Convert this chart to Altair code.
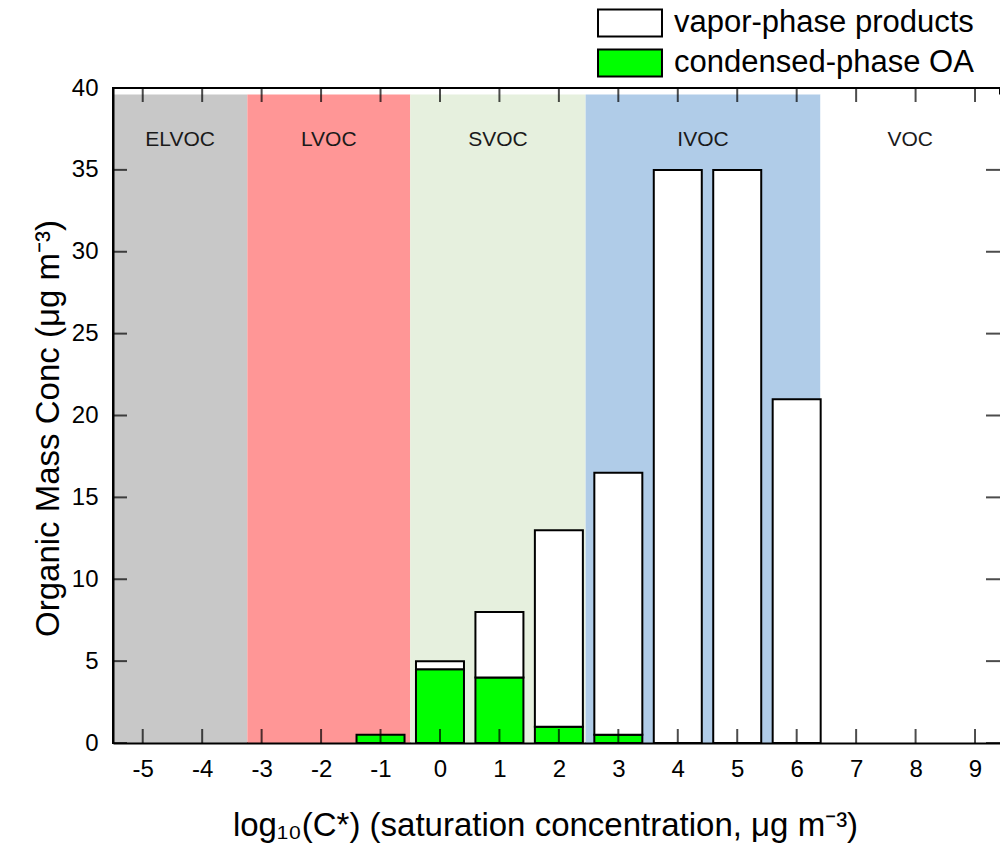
import altair as alt
import pandas as pd

# ---------------- data ----------------
bins = [-1, 0, 1, 2, 3, 4, 5, 6]
condensed = [0.5, 4.5, 4.0, 1.0, 0.5, 0.0, 0.0, 0.0]
vapor = [0.0, 0.5, 4.0, 12.0, 16.0, 35.0, 35.0, 21.0]

series_names = ["vapor-phase products", "condensed-phase OA"]
series_colors = ["#ffffff", "#00ff00"]

band_names = ["ELVOC", "LVOC", "SVOC", "IVOC", "VOC"]
band_start = [-5.5, -3.24, -0.5, 2.45, 6.4]
band_end = [-3.24, -0.5, 2.45, 6.4, 9.42]
band_colors = ["#c8c8c8", "#ff9696", "#e6f0de", "#b0cce8", "#ffffff"]
band_top = 39.6
label_y = 36.8

x_ticks = list(range(-5, 10))
y_ticks = list(range(0, 41, 5))
X_MIN, X_MAX = -5.5, 9.42
Y_MIN, Y_MAX = 0, 40

FONT = "Liberation Sans"

# ---------------- tables ----------------
rows = []
for b, c, v in zip(bins, condensed, vapor):
    if c > 0:
        rows.append({"bin": b, "y0": 0.0, "y1": c, "series": series_names[1]})
    if v > 0:
        rows.append({"bin": b, "y0": c, "y1": c + v, "series": series_names[0]})
bars_df = pd.DataFrame(rows)

bands_df = pd.DataFrame({
    "name": band_names, "start": band_start, "end": band_end,
    "color": band_colors,
})
bands_df["mid"] = (bands_df["start"] + bands_df["end"]) / 2
bands_df["top"] = band_top
bands_df["ly"] = label_y
bands_df["zero"] = 0.0

xt_df = pd.DataFrame({"x": x_ticks})
yt_df = pd.DataFrame({"y": y_ticks})

x_scale = alt.Scale(domain=[X_MIN, X_MAX], nice=False, zero=False, padding=0)
y_scale = alt.Scale(domain=[Y_MIN, Y_MAX], nice=False, zero=False, padding=0)

x_axis = alt.Axis(
    values=x_ticks, ticks=False, grid=False, domain=True, domainColor="black",
    domainWidth=2, labelFont=FONT, labelFontSize=24, labelColor="black",
    labelExpr="datum.value + ''",
    labelPadding=14, title="log₁₀(C*) (saturation concentration, μg m⁻³)",
    titleFont=FONT, titleFontSize=33, titleFontWeight="normal",
    titleColor="black", titlePadding=28, titleX=432, zindex=1,
)
y_axis = alt.Axis(
    values=y_ticks, ticks=False, grid=False, domain=True, domainColor="black",
    domainWidth=2, labelFont=FONT, labelFontSize=24, labelColor="black",
    labelExpr="datum.value + ''",
    labelPadding=15, title="Organic Mass Conc (μg m⁻³)",
    titleFont=FONT, titleFontSize=33, titleFontWeight="normal",
    titleColor="black", titlePadding=6, titleY=340, zindex=1,
)

base_bands = alt.Chart(bands_df)

bands = base_bands.mark_rect().encode(
    x=alt.X("start:Q", scale=x_scale, axis=x_axis),
    x2="end:Q",
    y=alt.Y("zero:Q", scale=y_scale, axis=y_axis),
    y2="top:Q",
    color=alt.Color("color:N", scale=None),
)

band_labels = base_bands.mark_text(
    font=FONT, fontSize=21, color="#1a1a1a", baseline="middle", align="center"
).encode(
    x=alt.X("mid:Q", scale=x_scale),
    y=alt.Y("ly:Q", scale=y_scale),
    text="name:N",
)

bars = alt.Chart(bars_df).mark_bar(size=48, stroke="black", strokeWidth=2).encode(
    x=alt.X("bin:Q", scale=x_scale),
    y=alt.Y("y0:Q", scale=y_scale),
    y2="y1:Q",
    fill=alt.Fill(
        "series:N",
        scale=alt.Scale(domain=series_names, range=series_colors),
        legend=alt.Legend(
            title=None, orient="none", legendX=501.5, legendY=-80.5,
            symbolType="M-2.37,-1H2.37V1H-2.37Z", symbolSize=729,
            symbolStrokeColor="black", symbolStrokeWidth=2, symbolOpacity=1,
            labelFont=FONT, labelFontSize=31, labelColor="black",
            labelOffset=28.5, rowPadding=5, padding=0, labelLimit=500,
        ),
    ),
)

tick_style = dict(color="black", thickness=2, size=14)
bottom_ticks = alt.Chart(xt_df).mark_tick(orient="vertical", yOffset=-7, **tick_style).encode(
    x=alt.X("x:Q", scale=x_scale), y=alt.Y("b:Q", scale=y_scale)
).transform_calculate(b=str(Y_MIN))
top_ticks = alt.Chart(xt_df).mark_tick(orient="vertical", yOffset=7, **tick_style).encode(
    x=alt.X("x:Q", scale=x_scale), y=alt.Y("t:Q", scale=y_scale)
).transform_calculate(t=str(Y_MAX))
left_ticks = alt.Chart(yt_df).mark_tick(orient="horizontal", xOffset=7, **tick_style).encode(
    y=alt.Y("y:Q", scale=y_scale), x=alt.X("l:Q", scale=x_scale)
).transform_calculate(l=str(X_MIN))
right_ticks = alt.Chart(yt_df).mark_tick(orient="horizontal", xOffset=-7, **tick_style).encode(
    y=alt.Y("y:Q", scale=y_scale), x=alt.X("r:Q", scale=x_scale)
).transform_calculate(r=str(X_MAX))

chart = alt.layer(
    bands, band_labels, bars, bottom_ticks, top_ticks, left_ticks, right_ticks
).properties(
    width=887, height=655,
    autosize=alt.AutoSizeParams(type="none"),
    padding={"left": 113, "top": 88, "right": 0, "bottom": 105},
    background="white",
).configure_view(stroke="black", strokeWidth=2)

chart.save("out.html", embed_options={"renderer": "svg", "actions": False})
